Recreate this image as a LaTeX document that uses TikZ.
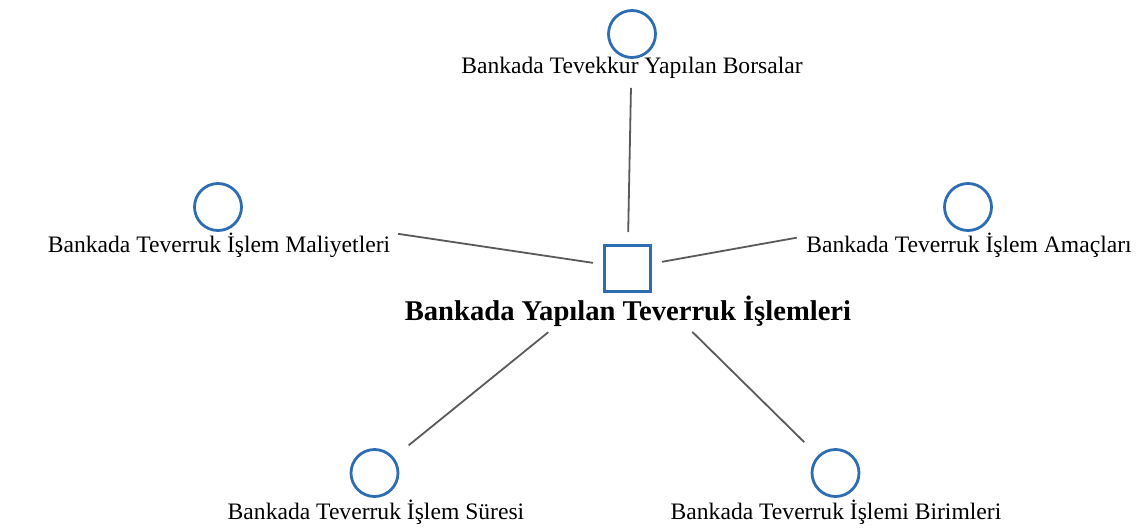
\documentclass[tikz,border=0pt]{standalone}
\usepackage{fontspec}
\setmainfont{Liberation Serif}
\usepackage{tikz}

\begin{document}
\begin{tikzpicture}[
  x=1pt,y=-1pt,
  actor/.style={circle, draw=nodeblue, line width=2.8pt, minimum size=47pt, inner sep=0pt},
  hub/.style={rectangle, draw=nodeblue, line width=3pt, minimum size=46pt, inner sep=0pt},
  caption/.style={anchor=base, inner sep=0pt, font=\fontsize{23.6}{27}\selectfont},
  hubcaption/.style={anchor=base, inner sep=0pt, font=\fontsize{28.6}{33}\selectfont\bfseries},
  link/.style={draw=linkgray, line width=1.8pt}]

\definecolor{nodeblue}{RGB}{46,109,178}
\definecolor{linkgray}{RGB}{90,90,90}

\useasboundingbox (0,0) rectangle (1147,532);

% Center of the star
\node[hub] (teverrukIslemleri) at (627.5,268) {};
\node[hubcaption] (teverrukIslemleriText) at (628,320) {Bankada Yapılan Teverruk İşlemleri};

% Surrounding items with their captions
\node[actor] (borsalar) at (632,34) {};
\node[caption] (borsalarText) at (632,74) {Bankada Tevekkur Yapılan Borsalar};

\node[actor] (maliyetler) at (218,207) {};
\node[caption] (maliyetlerText) at (219,252) {Bankada Teverruk İşlem Maliyetleri};

\node[actor] (amaclar) at (968,207) {};
\node[caption] (amaclarText) at (969,252) {Bankada Teverruk İşlem Amaçları};

\node[actor] (sure) at (374.5,473) {};
\node[caption] (sureText) at (376,519) {Bankada Teverruk İşlem Süresi};

\node[actor] (birimler) at (835.5,473) {};
\node[caption] (birimlerText) at (836,519) {Bankada Teverruk İşlemi Birimleri};

% Connectors from each item to the center
\draw[link, shorten <=54pt, shorten >=36pt] (borsalar.center) -- (teverrukIslemleri.center);
\draw[link, shorten <=182pt, shorten >=35pt] (maliyetler.center) -- (teverrukIslemleri.center);
\draw[link, shorten <=174pt, shorten >=35pt] (amaclar.center) -- (teverrukIslemleri.center);
\draw[link, shorten <=44pt, shorten >=102pt] (sure.center) -- (teverrukIslemleri.center);
\draw[link, shorten <=44pt, shorten >=91pt] (birimler.center) -- (teverrukIslemleri.center);

\end{tikzpicture}
\end{document}
